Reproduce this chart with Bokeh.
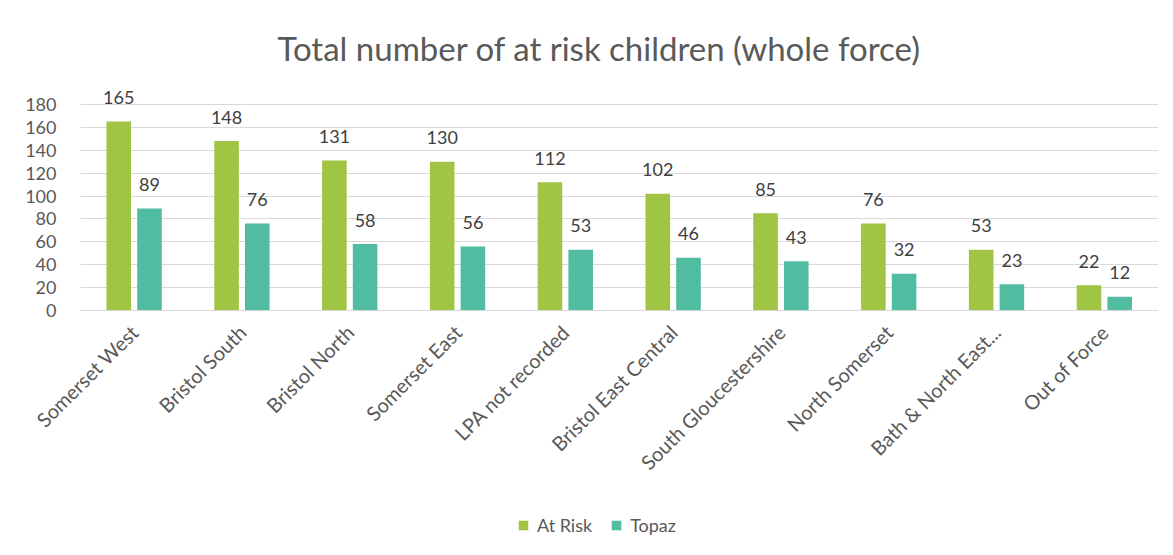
from bokeh.plotting import figure
from bokeh.layouts import column
from bokeh.models import ColumnDataSource, FactorRange, FixedTicker, Legend, LegendItem, Range1d
from bokeh.transform import dodge
from bokeh.embed import file_html
from bokeh.resources import INLINE

areas = ["Somerset West", "Bristol South", "Bristol North", "Somerset East",
         "LPA not recorded", "Bristol East Central", "South Gloucestershire",
         "North Somerset", "Bath & North East...", "Out of Force"]
at_risk = [165, 148, 131, 130, 112, 102, 85, 76, 53, 22]
topaz = [89, 76, 58, 56, 53, 46, 43, 32, 23, 12]
y_ticks = [0, 20, 40, 60, 80, 100, 120, 140, 160, 180]
series_names = ["At Risk", "Topaz"]

GREEN = "#A0C443"
TEAL = "#50BDA2"
FONT = "Lato"

src = ColumnDataSource(data=dict(
    area=areas, at_risk=at_risk, topaz=topaz,
    at_risk_lbl=[str(v) for v in at_risk], topaz_lbl=[str(v) for v in topaz]))

p = figure(width=1173, height=500, x_range=FactorRange(*areas, range_padding=0),
           y_range=Range1d(0, 200), output_backend="svg", toolbar_location=None,
           min_border_left=80, min_border_right=15, min_border_top=81, min_border_bottom=190,
           title="Total number of at risk children (whole force)")
p.outline_line_color = None
p.background_fill_color = "white"
p.border_fill_color = "white"

p.title.text_font = FONT
p.title.text_font_size = "33px"
p.title.text_font_style = "normal"
p.title.text_color = "#595959"
p.title.align = "left"
p.title.offset = 197
p.title.standoff = 28

p.vbar(x=dodge("area", -0.145, range=p.x_range), top="at_risk", width=0.228,
       source=src, fill_color=GREEN, line_color=None)
p.vbar(x=dodge("area", 0.14, range=p.x_range), top="topaz", width=0.228,
       source=src, fill_color=TEAL, line_color=None)

p.text(x=dodge("area", -0.145, range=p.x_range), y="at_risk", text="at_risk_lbl", source=src,
       text_align="center", text_baseline="middle", y_offset=-24,
       text_font_size="18px", text_color="#404040", text_font={"value": FONT})
p.text(x=dodge("area", 0.14, range=p.x_range), y="topaz", text="topaz_lbl", source=src,
       text_align="center", text_baseline="middle", y_offset=-24,
       text_font_size="18px", text_color="#404040", text_font={"value": FONT})

p.yaxis.ticker = FixedTicker(ticks=y_ticks)
p.yaxis.axis_line_color = None
p.yaxis.major_tick_line_color = None
p.yaxis.minor_tick_line_color = None
p.yaxis.major_label_standoff = 18
p.yaxis.major_label_text_font = FONT
p.yaxis.major_label_text_font_size = "18px"
p.yaxis.major_label_text_color = "#595959"

p.xaxis.axis_line_color = "#D9D9D9"
p.xaxis.major_tick_line_color = None
p.xaxis.minor_tick_line_color = None
p.xaxis.major_label_orientation = 0.785398
p.xaxis.major_label_standoff = 12
p.xaxis.major_label_text_font = FONT
p.xaxis.major_label_text_font_size = "20px"
p.xaxis.major_label_text_color = "#595959"

p.xgrid.grid_line_color = None
p.ygrid.ticker = FixedTicker(ticks=y_ticks)
p.ygrid.grid_line_color = "#D9D9D9"
p.ygrid.grid_line_width = 1

# legend strip below the chart (its dummy bars sit far outside its visible range)
lg = figure(width=1173, height=55, x_range=Range1d(0, 1), y_range=Range1d(0, 1),
            output_backend="svg", toolbar_location=None,
            min_border_left=0, min_border_right=0, min_border_top=0, min_border_bottom=0)
lg.axis.visible = False
lg.grid.visible = False
lg.outline_line_color = None
lg.border_fill_color = "white"
d1 = lg.vbar(x=[-50], top=[-40], bottom=-50, width=0.1, fill_color=GREEN, line_color=None)
d2 = lg.vbar(x=[-50], top=[-40], bottom=-50, width=0.1, fill_color=TEAL, line_color=None)
legend = Legend(items=[LegendItem(label=series_names[0], renderers=[d1]),
                       LegendItem(label=series_names[1], renderers=[d2])],
                orientation="horizontal", location=(437, 19),
                glyph_width=12, glyph_height=12, padding=0, margin=0, spacing=18,
                label_standoff=8, label_text_font=FONT, label_text_font_size="18px",
                label_text_color="#595959", border_line_color=None,
                background_fill_alpha=0)
lg.add_layout(legend, "center")

layout = column(p, lg, spacing=0)
open("out.html", "w").write(file_html(layout, INLINE))
